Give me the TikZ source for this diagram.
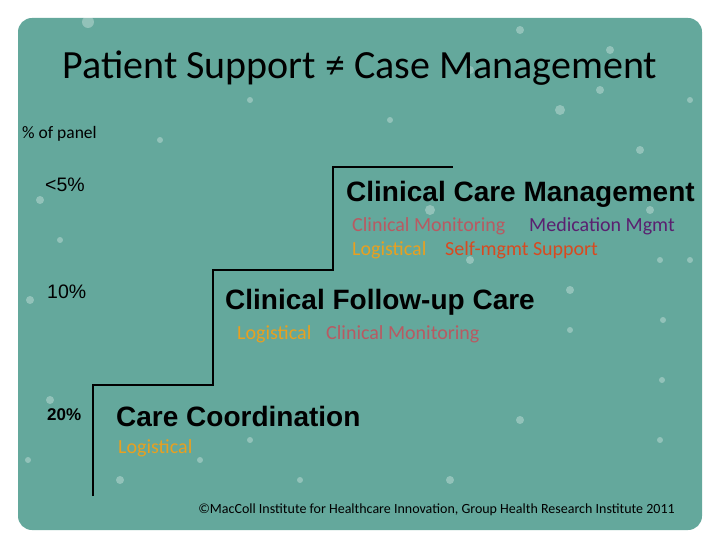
\documentclass[tikz,border=0pt]{standalone}
\usepackage{fontspec}
\setmainfont{Carlito}
\newfontfamily\arl{Liberation Sans}
\begin{document}
\begin{tikzpicture}[x=1pt,y=-1pt,
  head/.style={anchor=west,font=\arl\bfseries\fontsize{28}{32}\selectfont},
  pct/.style={anchor=west,font=\arl\fontsize{19.5}{22}\selectfont},
  sub/.style={anchor=west,font=\fontsize{20}{23}\selectfont,inner sep=0pt},
  dot/.style={fill=white,opacity=0.3}]
\definecolor{teal}{HTML}{64A89C}
\definecolor{cmon}{HTML}{B85A62}
\definecolor{med}{HTML}{5A2070}
\definecolor{logi}{HTML}{E8A020}
\definecolor{selfm}{HTML}{D84A20}
\useasboundingbox (0,0) rectangle (720,540);
\fill[white] (0,0) rectangle (720,540);
\fill[teal,rounded corners=14pt] (18,18) rectangle (702,530);
\foreach \x/\y/\r in {88/22/6,40/200/4,60/240/3,30/300/4,50/400/4,28/460/3,120/480/4,470/70/4,520/30/4,640/150/4,650/210/4,660/260/3,663/320/3,662/380/3,660/440/3,560/110/5,600/90/4,390/120/3,430/210/5,470/260/4,570/290/4,570/330/3,520/420/4,450/480/4,300/480/3,200/460/3,250/440/3,160/140/3,250/100/3,610/50/4,690/100/3,690/260/3}
  \fill[dot] (\x,\y) circle (\r);
\node (title) at (360,68) {\fontsize{40}{46}\selectfont Patient Support ≠ Case Management};
\node[anchor=west,inner sep=0pt,font=\fontsize{17.5}{20}\selectfont] (panel) at (22,134) {\% of panel};
\node[pct,inner sep=0pt] (p5) at (45,185) {<5\%};
\node[pct,inner sep=0pt] (p10) at (47,292) {10\%};
\node[pct,inner sep=0pt,font=\arl\bfseries\fontsize{17}{20}\selectfont] (p20) at (47,415) {20\%};
\draw[line width=2.5pt] (93,496) -- (93,385) -- (213,385) -- (213,270) -- (333,270) -- (333,167) -- (453,167);
\node[head,inner sep=0pt] (ccm) at (346,194) {Clinical Care Management};
\node[sub,text=cmon] (cm1) at (352,226) {Clinical Monitoring};
\node[sub,text=med] (mm) at (529,226) {Medication Mgmt};
\node[sub,text=logi] (lg1) at (352,250) {Logistical};
\node[sub,text=selfm] (sm) at (445,250) {Self-mgmt Support};
\node[head,inner sep=0pt] (cfc) at (225,302) {Clinical Follow-up Care};
\node[sub,text=logi] (lg2) at (237,334) {Logistical};
\node[sub,text=cmon] (cm2) at (326,334) {Clinical Monitoring};
\node[head,inner sep=0pt] (cc) at (116,416) {Care Coordination};
\node[sub,text=logi] (lg3) at (118,448) {Logistical};
\node[anchor=east,inner sep=0pt,font=\fontsize{14}{16}\selectfont] (foot) at (675,510) {©MacColl Institute for Healthcare Innovation, Group Health Research Institute 2011};
\end{tikzpicture}
\end{document}
